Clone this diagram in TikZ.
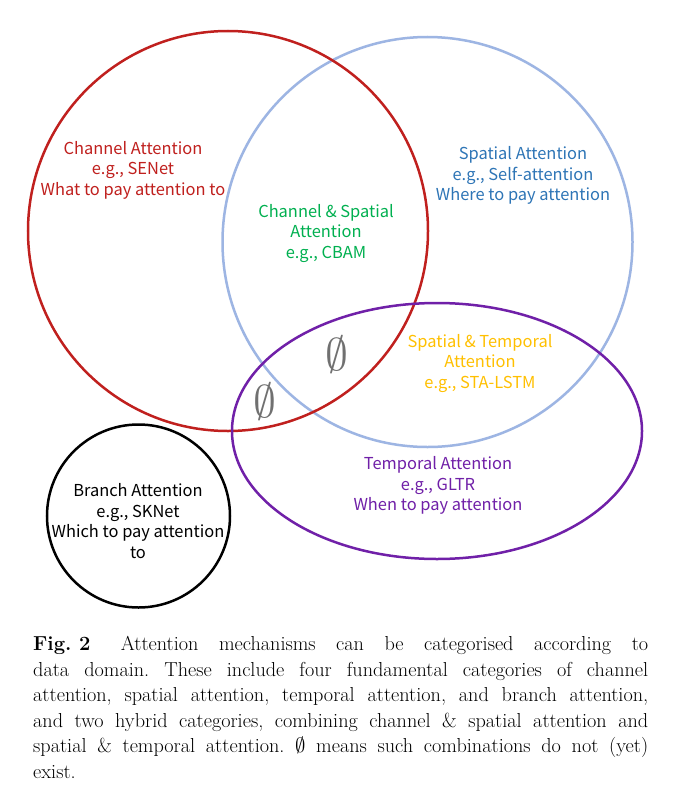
\documentclass[tikz,border=0pt]{standalone}
\usepackage{fontspec}
\usepackage{amssymb}
\usetikzlibrary{shapes.geometric}
\newfontfamily\cjk{Noto Sans CJK SC}
\definecolor{chred}{HTML}{C0201E}
\definecolor{spblue}{HTML}{9DB5E3}
\definecolor{sptext}{HTML}{2E75B6}
\definecolor{csgreen}{HTML}{00B050}
\definecolor{storange}{HTML}{FFC000}
\definecolor{tmpurple}{HTML}{7020A8}
\definecolor{nullgray}{HTML}{707070}
\newcommand{\capline}[1]{\makebox[615bp][s]{#1}}
\tikzset{
  ring/.style={draw, line width=2.5bp, inner sep=0pt, outer sep=0pt},
  lbl/.style={align=center, inner sep=0pt, font=\cjk\fontsize{16.5}{20.5}\selectfont},
  nullset/.style={inner sep=0pt, text=nullgray, scale=4.6, font=\fontsize{10}{10}\selectfont},
}
\begin{document}
\begin{tikzpicture}[x=1bp, y=-1bp]
\useasboundingbox (0,0) rectangle (690,807);
\fill[white] (0,0) rectangle (690,807);
% circles
\node[ring, circle, draw=spblue, minimum size=410bp] (spatial) at (427.5,242) {};
\node[ring, circle, draw=chred, minimum size=400bp] (channel) at (228,231) {};
\node[ring, ellipse, draw=tmpurple, minimum width=410bp, minimum height=256bp] (temporal) at (437,431) {};
\node[ring, circle, draw=black, minimum size=183bp] (branch) at (138.5,516) {};
% labels
\node[lbl, text=chred] (chlbl) at (133,170) {Channel Attention\\e.g., SENet\\What to pay attention to};
\node[lbl, text=csgreen] (cslbl) at (326,233.5) {Channel \& Spatial\\Attention\\e.g., CBAM};
\node[lbl, text=sptext] (splbl) at (523,175.5) {Spatial Attention\\e.g., Self-attention\\Where to pay attention};
\node[lbl, text=storange] (stlbl) at (480,363.5) {Spatial \& Temporal\\Attention\\e.g., STA-LSTM};
\node[lbl, text=tmpurple] (tmlbl) at (438,485.5) {Temporal Attention\\e.g., GLTR\\When to pay attention};
\node[lbl, text=black] (brlbl) at (138,521) {Branch Attention\\e.g., SKNet\\Which to pay attention\\to};
% empty sets
\node[nullset] (null1) at (337,355) {$\emptyset$};
\node[nullset] (null2) at (265,402) {$\emptyset$};
% caption
\node[anchor=north west, inner sep=0pt, align=left,
      font=\fontsize{20.3}{25.7}\selectfont\frenchspacing] (caption) at (33,636)
{\capline{\mbox{\textbf{Fig.\ 2}}\hspace{1.5em}Attention mechanisms can be categorised according to}\\
\capline{data domain. These include four fundamental categories of channel}\\
\capline{attention, spatial attention, temporal attention, and branch attention,}\\
\capline{and two hybrid categories, combining channel \& spatial attention and}\\
\capline{spatial \& temporal attention. $\emptyset$ means such combinations do not (yet)}\\
exist.};
\end{tikzpicture}
\end{document}
